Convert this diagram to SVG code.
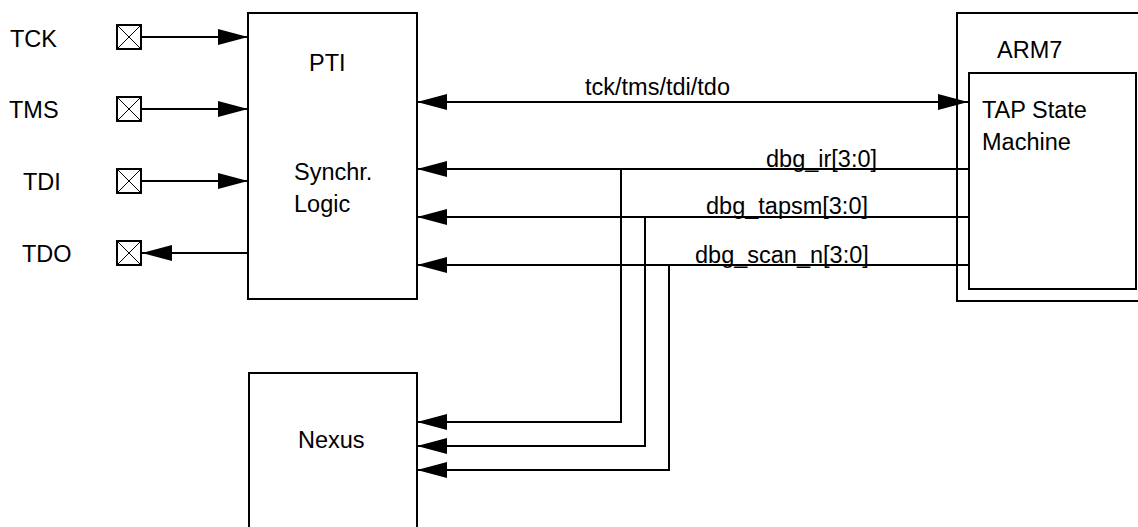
<svg xmlns="http://www.w3.org/2000/svg" width="1138" height="527" viewBox="0 0 1138 527">
<defs>
<marker id="ah" markerUnits="userSpaceOnUse" markerWidth="30" markerHeight="16" refX="30" refY="8" orient="auto-start-reverse" viewBox="0 0 30 16">
<path d="M0,0 L30,8 L0,16 Z" fill="#000"/>
</marker>
<style>
text{font-family:"Liberation Sans",Arial,Helvetica,sans-serif;font-size:23.5px;fill:#000}
.box{fill:none;stroke:#000;stroke-width:2}
.pin{fill:#fff;stroke:#000;stroke-width:2}
.x{stroke:#000;stroke-width:1}
.w{fill:none;stroke:#000;stroke-width:2}
.a{marker-end:url(#ah)}
</style>
</defs>
<rect width="1138" height="527" fill="#fff"/>
<g id="pins">
<g id="pin-TCK"><text x="10" y="47">TCK</text><rect class="pin" x="117" y="25" width="24" height="24"/><path class="x" d="M117,25 L141,49 M141,25 L117,49"/></g>
<g id="pin-TMS"><text x="9" y="118">TMS</text><rect class="pin" x="117" y="97" width="24" height="24"/><path class="x" d="M117,97 L141,121 M141,97 L117,121"/></g>
<g id="pin-TDI"><text x="23" y="190">TDI</text><rect class="pin" x="117" y="169" width="24" height="24"/><path class="x" d="M117,169 L141,193 M141,169 L117,193"/></g>
<g id="pin-TDO"><text x="22" y="262">TDO</text><rect class="pin" x="117" y="241" width="24" height="24"/><path class="x" d="M117,241 L141,265 M141,241 L117,265"/></g>
</g>
<g id="PTI">
<rect class="box" x="248" y="13" width="169" height="286"/>
<text x="309" y="71">PTI</text>
<text x="294" y="180">Synchr.</text>
<text x="294" y="212">Logic</text>
</g>
<g id="ARM7">
<path class="box" d="M1140,13 H957 V301 H1140"/>
<text x="997" y="58">ARM7</text>
</g>
<g id="TAP">
<rect class="box" x="969" y="73" width="167" height="216"/>
<text x="982" y="118">TAP State</text>
<text x="982" y="150">Machine</text>
</g>
<g id="Nexus">
<path class="box" d="M249,530 V373 H417 V530"/>
<text x="298" y="448">Nexus</text>
</g>
<g id="connectors">
<path class="w a" d="M141,37 H248"/>
<path class="w a" d="M141,109 H248"/>
<path class="w a" d="M141,181 H248"/>
<path class="w a" d="M248,253 H142"/>
<path class="w a" d="M417,102 H968" style="marker-start:url(#ah)"/>
<path class="w a" d="M969,169 H417"/>
<path class="w a" d="M969,217 H417"/>
<path class="w a" d="M969,265 H417"/>
<path class="w a" d="M621,169 V422 H417"/>
<path class="w a" d="M645,217 V446 H417"/>
<path class="w a" d="M669,265 V470 H417"/>
<text x="585" y="95">tck/tms/tdi/tdo</text>
<text x="766" y="167">dbg_ir[3:0]</text>
<text x="706" y="214">dbg_tapsm[3:0]</text>
<text x="695" y="263">dbg_scan_n[3:0]</text>
</g>
</svg>
